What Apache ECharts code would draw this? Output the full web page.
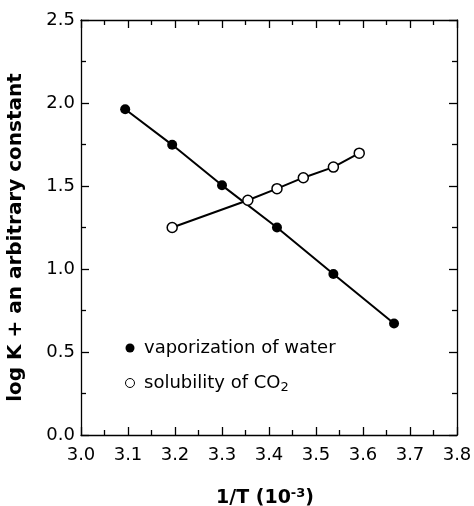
<!DOCTYPE html>
<html><head><meta charset="utf-8">
<script src="https://cdn.jsdelivr.net/npm/echarts@6/dist/echarts.min.js"></script>
<style>html,body{margin:0;padding:0;background:#fff}#c{width:474px;height:506px}</style>
</head><body><div id="c"></div>
<script>
const vapX = [3.094, 3.194, 3.300, 3.417, 3.537, 3.666];
const vapY = [1.962, 1.748, 1.504, 1.250, 0.970, 0.672];
const solX = [3.194, 3.355, 3.417, 3.473, 3.537, 3.592];
const solY = [1.250, 1.414, 1.484, 1.550, 1.614, 1.698];
const seriesNames = ['vaporization of water', 'solubility of CO₂'];
const font = 'DejaVu Sans, Liberation Sans, Arial, sans-serif';

const chart = echarts.init(document.getElementById('c'));
const axisCommon = {
  axisLine: {show: true, onZero: false, lineStyle: {color: '#000', width: 1.3}},
  axisTick: {show: true, inside: true, length: 8, lineStyle: {color: '#000', width: 1.3}},
  minorTick: {show: true, splitNumber: 2, length: 5, lineStyle: {color: '#000', width: 1.3}},
  splitLine: {show: false}
};
chart.setOption({
  animation: false,
  backgroundColor: '#fff',
  grid: {left: 81, right: 17, top: 20, bottom: 71, outerBoundsMode: 'none', containLabel: false},
  legend: {
    orient: 'vertical', left: 120, top: 334, itemGap: 17,
    itemWidth: 18, itemHeight: 9,
    textStyle: {fontFamily: font, fontSize: 18, color: '#000',
      rich: {sub: {fontFamily: font, fontSize: 13, color: '#000', verticalAlign: 'bottom', padding: [9, 0, 0, 0]}}},
    formatter: function (n) { return n === seriesNames[1] ? 'solubility of CO{sub|2}' : n; },
    data: [
      {name: seriesNames[0], icon: 'circle', itemStyle: {color: '#000', borderWidth: 0}},
      {name: seriesNames[1], icon: 'circle', itemStyle: {color: '#fff', borderColor: '#000', borderWidth: 1}}
    ]
  },
  xAxis: [{
    type: 'value', min: 3.0, max: 3.8, interval: 0.1, position: 'bottom',
    name: '1/T (10{sup|-3})', nameLocation: 'middle', nameGap: 52,
    nameTextStyle: {fontFamily: font, fontSize: 19, fontWeight: 'bold', color: '#000', padding: [0, 8, 0, 0],
      rich: {sup: {fontFamily: font, fontSize: 13, fontWeight: 'bold', color: '#000', verticalAlign: 'top', padding: [0, 0, 9, 0]}}},
    axisLabel: {fontFamily: font, fontSize: 18, color: '#000', margin: 11,
      formatter: v => v.toFixed(1)},
    ...axisCommon
  }, {
    type: 'value', min: 3.0, max: 3.8, interval: 0.1, position: 'top',
    axisLabel: {show: false}, ...axisCommon
  }],
  yAxis: [{
    type: 'value', min: 0, max: 2.5, interval: 0.5, position: 'left',
    name: 'log K + an arbitrary constant', nameLocation: 'middle', nameGap: 55,
    nameTextStyle: {fontFamily: font, fontSize: 20, fontWeight: 'bold', color: '#000', padding: [0, 20, 0, 0]},
    axisLabel: {fontFamily: font, fontSize: 18, color: '#000', margin: 6,
      formatter: v => v.toFixed(1)},
    ...axisCommon
  }, {
    type: 'value', min: 0, max: 2.5, interval: 0.5, position: 'right',
    axisLabel: {show: false}, ...axisCommon
  }],
  series: [{
    name: seriesNames[0], type: 'line', data: vapX.map((x, i) => [x, vapY[i]]),
    symbol: 'circle', symbolSize: 10,
    itemStyle: {color: '#000'}, lineStyle: {color: '#000', width: 2}, z: 2
  }, {
    name: seriesNames[1], type: 'line', data: solX.map((x, i) => [x, solY[i]]),
    symbol: 'circle', symbolSize: 10,
    itemStyle: {color: '#fff', borderColor: '#000', borderWidth: 1.5},
    lineStyle: {color: '#000', width: 2}, z: 3
  }]
});
</script></body></html>
